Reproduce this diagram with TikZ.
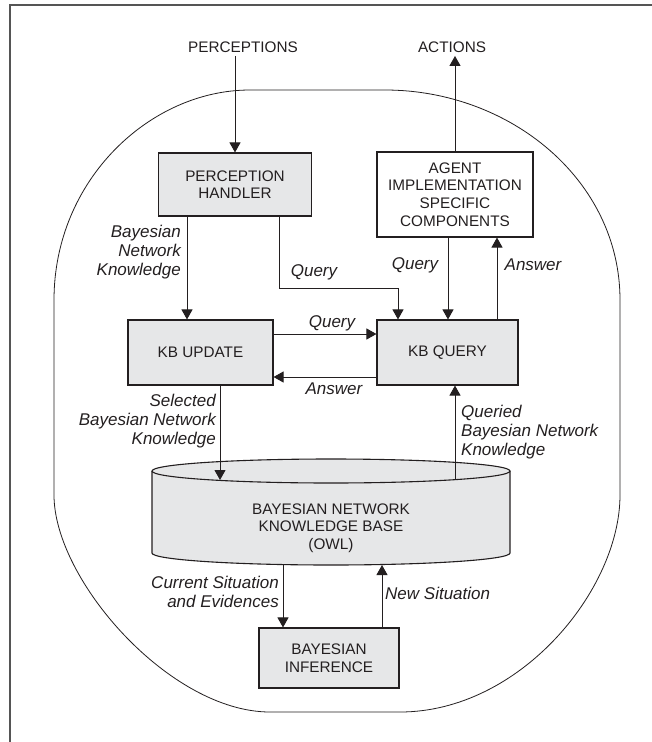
\documentclass[tikz,border=0pt]{standalone}
\usepackage{fontspec}
\setmainfont{Liberation Sans}
\usetikzlibrary{arrows.meta,calc}
\definecolor{boxfill}{HTML}{E6E7E8}
\definecolor{ink}{HTML}{231F20}
\definecolor{framegray}{HTML}{555555}
\begin{document}
\begin{tikzpicture}[x=1pt,y=-1pt,
  font=\fontsize{15.3}{17.6}\selectfont,
  every node/.style={text=ink},
  box/.style={draw=ink, line width=1.1pt, fill=boxfill, inner sep=0pt, align=center},
  whitebox/.style={box, fill=white},
  lbl/.style={font=\fontsize{17}{19}\selectfont\itshape, inner sep=0pt},
  arr/.style={draw=ink, line width=1pt, -{Triangle[length=10pt,width=11pt]}},
  wire/.style={draw=ink, line width=1pt}
]
\useasboundingbox (0,0) rectangle (652,742);

% page frame
\draw[framegray, line width=1.2pt] (652,5) -- (10,5) -- (10,742);

% agent boundary
\draw[ink, line width=0.8pt]
  (250,90) -- (385,90)
  .. controls (510,90) and (620,180) .. (620,300)
  -- (620,495)
  .. controls (620,590) and (520,712) .. (400,712)
  -- (270,712)
  .. controls (170,712) and (54,580) .. (54,495)
  -- (54,300)
  .. controls (54,180) and (150,90) .. (250,90) -- cycle;

% environment terminals
\node (perc) at (243,47) {PERCEPTIONS};
\node (act) at (452,47) {ACTIONS};

% components
\node[box, minimum width=153pt, minimum height=63pt] (ph) at (235,184.5) {PERCEPTION\\HANDLER};
\node[whitebox, minimum width=156pt, minimum height=85pt] (agent) at (455,194.5) {AGENT\\IMPLEMENTATION\\SPECIFIC\\COMPONENTS};
\node[box, minimum width=145pt, minimum height=65pt] (upd) at (200.5,352.5) {KB UPDATE};
\node[box, minimum width=141pt, minimum height=65pt] (qry) at (447.5,352.5) {KB QUERY};
\node[box, minimum width=140pt, minimum height=60pt] (inf) at (329,658) {BAYESIAN\\INFERENCE};

% knowledge base cylinder
\fill[boxfill] (152,471) -- (152,553) arc[start angle=180,end angle=0,x radius=179,y radius=12]
  -- (510,471) arc[start angle=0,end angle=-180,x radius=179,y radius=12] -- cycle;
\draw[ink, line width=1.1pt] (152,471) -- (152,553) arc[start angle=180,end angle=0,x radius=179,y radius=12] -- (510,471);
\draw[ink, line width=1.1pt] (331,471) ellipse[x radius=179, y radius=12];
\node[align=center, font=\fontsize{15.3}{17.5}\selectfont] (kb) at (331,528) {BAYESIAN NETWORK\\KNOWLEDGE BASE\\(OWL)};
\coordinate (kbtopL) at (220,480);
\coordinate (kbtopR) at (455,479);
\coordinate (kbbotL) at (283,565);
\coordinate (kbbotR) at (382,565);

% connectors
\draw[arr] (perc.south -| ph.north) -- (ph.north);
\draw[arr] (agent.north) -- (agent.north |- act.south);

\draw[arr] ([xshift=-48pt]ph.south) -- ([xshift=-48pt]ph.south |- upd.north);
\draw[arr] ([xshift=44pt]ph.south) |- (398,288) -- ([xshift=-49.5pt]qry.north);
\draw[arr] ([xshift=-7pt]agent.south) -- ([xshift=-7pt]agent.south |- qry.north);
\draw[arr] ([xshift=42pt]agent.south |- qry.north) -- ([xshift=42pt]agent.south);

\draw[arr] ([yshift=18.5pt]upd.east) -- ([yshift=18.5pt]upd.east -| qry.west);
\draw[arr] ([yshift=-24.5pt]qry.west) -- ([yshift=-24.5pt]qry.west -| upd.east);

\draw[arr] ([xshift=19.5pt]upd.south) -- (kbtopL);
\draw[arr] (kbtopR) -- (kbtopR |- qry.south);
\draw[arr] (kbbotL) -- (kbbotL |- inf.north);
\draw[arr] (kbbotR |- inf.north) -- (kbbotR);

% connector labels
\node[lbl, anchor=east, align=right] (lbnk) at (181,252) {Bayesian\\Network\\Knowledge};
\node[lbl] (lq1) at (314,272) {Query};
\node[lbl] (lq2) at (415,265) {Query};
\node[lbl] (la1) at (533,265) {Answer};
\node[lbl] (lq3) at (332,323) {Query};
\node[lbl] (la2) at (334,389) {Answer};
\node[lbl, anchor=east, align=right] (lsel) at (216,421) {Selected\\Bayesian Network\\Knowledge};
\node[lbl, anchor=west, align=left] (lqbn) at (461,432) {Queried\\Bayesian Network\\Knowledge};
\node[lbl, anchor=east, align=right] (lcur) at (279,592) {Current Situation\\and Evidences};
\node[lbl, anchor=west] (lnew) at (385,593) {New Situation};
\end{tikzpicture}
\end{document}
